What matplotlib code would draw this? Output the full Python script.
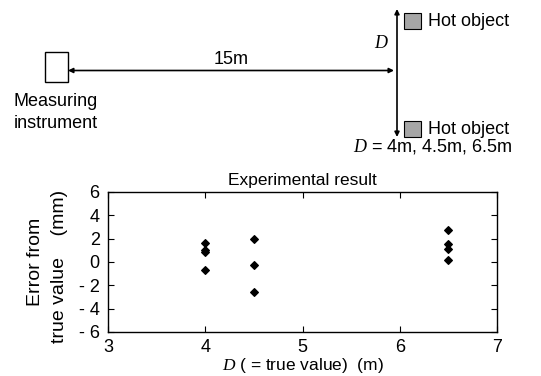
import numpy as np
import matplotlib.pyplot as plt
from matplotlib.patches import Rectangle
from matplotlib.ticker import FuncFormatter

plt.rcParams['font.family'] = ['Liberation Sans', 'DejaVu Sans']
plt.rcParams['mathtext.fontset'] = 'custom'
plt.rcParams['mathtext.it'] = 'Liberation Serif:italic'
plt.rcParams['mathtext.rm'] = 'Liberation Sans'

# measured data: distance D (m) and error from true value (mm)
d_values = [4.0, 4.0, 4.0, 4.0,
            4.5, 4.5, 4.5,
            6.5, 6.5, 6.5, 6.5]
errors = [1.63, 1.05, 0.88, -0.66,
          2.0, -0.26, -2.6,
          2.71, 1.54, 1.11, 0.14]

x_ticks = [3, 4, 5, 6, 7]
y_ticks = [-6, -4, -2, 0, 2, 4, 6]

fig = plt.figure(figsize=(5.41, 3.76), dpi=100)

# schematic drawn in pixel coordinates on an overlay
ov = fig.add_axes([0, 0, 1, 1])
ov.set_xlim(0, 541)
ov.set_ylim(376, 0)
ov.axis('off')

ov.add_patch(Rectangle((45, 52), 23, 30, facecolor='white', edgecolor='black', lw=1))
ov.annotate('', xy=(68, 70.5), xytext=(394, 70.5),
            arrowprops=dict(arrowstyle='<|-|>', color='black', lw=1.2,
                            mutation_scale=7, shrinkA=0, shrinkB=0))
ov.text(231, 59, '15m', fontsize=13, ha='center', va='center')
ov.text(56, 101, 'Measuring', fontsize=13, ha='center', va='center')
ov.text(56, 124, 'instrument', fontsize=13, ha='center', va='center')

ov.annotate('', xy=(397, 9), xytext=(397, 137),
            arrowprops=dict(arrowstyle='<|-|>', color='black', lw=1.2,
                            mutation_scale=7, shrinkA=0, shrinkB=0))
ov.text(381, 43, r'$\mathit{D}$', fontsize=13, ha='center', va='center')
ov.add_patch(Rectangle((404, 13), 17, 16, facecolor='#a6a6a6', edgecolor='black', lw=0.8))
ov.add_patch(Rectangle((404, 121), 17, 16, facecolor='#a6a6a6', edgecolor='black', lw=0.8))
ov.text(428, 21, 'Hot object', fontsize=13, ha='left', va='center')
ov.text(428, 129, 'Hot object', fontsize=13, ha='left', va='center')
ov.text(513, 147, r'$\mathit{D}$ = 4m, 4.5m, 6.5m', fontsize=13, ha='right', va='center')

# experimental result plot
ax = fig.add_axes([108 / 541, 1 - 332 / 376, 389 / 541, 140 / 376])
ax.scatter(d_values, errors, marker='D', s=15, color='black', zorder=3)
ax.set_xlim(3, 7)
ax.set_ylim(-6, 6)
ax.set_xticks(x_ticks)
ax.set_yticks(y_ticks)
ax.yaxis.set_major_formatter(FuncFormatter(lambda v, p: ('- %d' % -v) if v < 0 else '%d' % v))
ax.tick_params(direction='in', length=4, width=0.8, top=True, right=True,
               labelsize=13)
ax.tick_params(axis='x', pad=5)
ax.tick_params(axis='y', pad=6)
for s in ax.spines.values():
    s.set_linewidth(1)
ax.set_title('Experimental result', fontsize=12.5, pad=5)
ax.set_xlabel(r'$\mathit{D}$ ( = true value)  (m)', fontsize=12.5, labelpad=0)

fig.text(35 / 541, 1 - 262 / 376, 'Error from', fontsize=14, rotation=90,
         ha='center', va='center')
fig.text(60 / 541, 1 - 266 / 376, 'true value    (mm)', fontsize=14, rotation=90,
         ha='center', va='center')

fig.savefig('out.png', dpi=100)
